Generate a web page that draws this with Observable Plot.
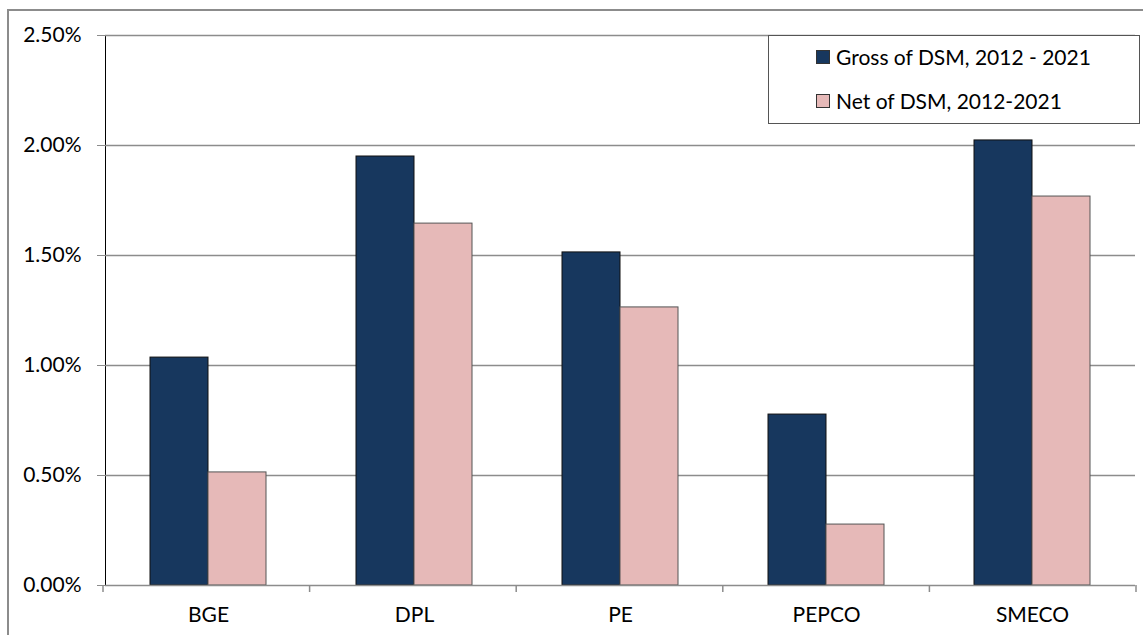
<!DOCTYPE html>
<html>
<head>
<meta charset="utf-8">
<script src="https://cdn.jsdelivr.net/npm/d3@7"></script>
<script src="https://cdn.jsdelivr.net/npm/@observablehq/plot@0.6"></script>
<style>
  html, body { margin: 0; padding: 0; background: #fff; }
  #wrap { position: relative; width: 1143px; height: 635px; overflow: hidden; font-family: Lato, "Liberation Sans", sans-serif; }
  #border { position: absolute; left: 7px; top: 9px; width: 1200px; height: 700px; border-left: 2px solid #8c8c8c; border-top: 2px solid #8c8c8c; }
  #chart { position: absolute; left: 0; top: 0; }
  #legend { position: absolute; left: 768px; top: 35px; width: 370px; height: 87px; border: 1.5px solid #555; background: #fff; font-size: 21px; color: #000; }
  .row { position: absolute; left: 47px; display: flex; align-items: center; white-space: nowrap; }
  .sw { width: 12px; height: 12px; border: 1px solid #333; margin-right: 6px; }
  #chart svg g[aria-label^="y-axis"] line, #chart svg g[aria-label^="y-axis"] path,
  #chart svg g[aria-label^="fx-axis"] line, #chart svg g[aria-label^="fx-axis"] path { stroke: #8c8c8c; }
</style>
</head>
<body>
<div id="wrap">
  <div id="border"></div>
  <div id="chart"></div>
  <div id="legend"></div>
</div>
<script>
const categories = ["BGE", "DPL", "PE", "PEPCO", "SMECO"];
const seriesNames = ["Gross of DSM, 2012 - 2021", "Net of DSM, 2012-2021"];
const grossValues = [0.01036, 0.01950, 0.01514, 0.00777, 0.02023];
const netValues = [0.00514, 0.01645, 0.01264, 0.00277, 0.01768];
const seriesColors = ["#17375e", "#e6b9b8"];
const seriesStrokes = ["#111111", "#555555"];
const yTicks = [0, 0.005, 0.01, 0.015, 0.02, 0.025];

const rows = [];
categories.forEach((c, i) => {
  rows.push({category: c, series: seriesNames[0], value: grossValues[i]});
  rows.push({category: c, series: seriesNames[1], value: netValues[i]});
});

const W = 1143, H = 635;
const mL = 103, mR = 7, mT = 35, mB = 50;

const chart = Plot.plot({
  width: W,
  height: H,
  marginLeft: mL,
  marginRight: mR,
  marginTop: mT,
  marginBottom: mB,
  style: {fontFamily: "Lato, 'Liberation Sans', sans-serif", fontSize: "21px", color: "#000", background: "transparent", overflow: "visible"},
  facet: {data: rows, x: "category"},
  fx: {domain: categories, padding: 0, label: null, tickSize: 0, tickPadding: 22},
  x: {domain: seriesNames, paddingInner: 0, paddingOuter: 0.75, axis: null},
  y: {domain: [0, 0.025], ticks: yTicks, tickFormat: d3.format(".2%"), tickSize: 8, tickPadding: 16, label: null, line: true},
  color: {domain: seriesNames, range: seriesColors},
  marks: [
    Plot.ruleY(yTicks.slice(1), {stroke: "#8c8c8c", strokeWidth: 1.5}),
    Plot.barY(rows, {x: "series", y: "value", fill: "series", stroke: d => d.series === seriesNames[0] ? seriesStrokes[0] : seriesStrokes[1], strokeWidth: 1}),
    Plot.ruleY([0], {stroke: "#8c8c8c", strokeWidth: 1.5})
  ]
});
document.getElementById("chart").appendChild(chart);

// category boundary tick marks below the baseline, from the fx band scale
const fx = chart.scale("fx");
const r = fx.range;
const step = (r[1] - r[0]) / categories.length;
const y0 = chart.scale("y");
const yBase = y0.range ? y0.range[0] : H - mB;
const g = d3.select(chart).append("g").attr("stroke", "#8c8c8c").attr("stroke-width", 1.5);
d3.range(categories.length + 1).forEach(i => {
  const x = r[0] + i * step;
  g.append("line").attr("x1", x).attr("x2", x).attr("y1", yBase).attr("y2", yBase + 7);
});

// legend
const legend = document.getElementById("legend");
seriesNames.forEach((s, i) => {
  const row = document.createElement("div");
  row.className = "row";
  row.style.top = (i === 0 ? 8 : 52) + "px";
  const sw = document.createElement("div");
  sw.className = "sw";
  sw.style.background = seriesColors[i];
  const t = document.createElement("span");
  t.textContent = s;
  row.appendChild(sw);
  row.appendChild(t);
  legend.appendChild(row);
});
</script>
</body>
</html>
